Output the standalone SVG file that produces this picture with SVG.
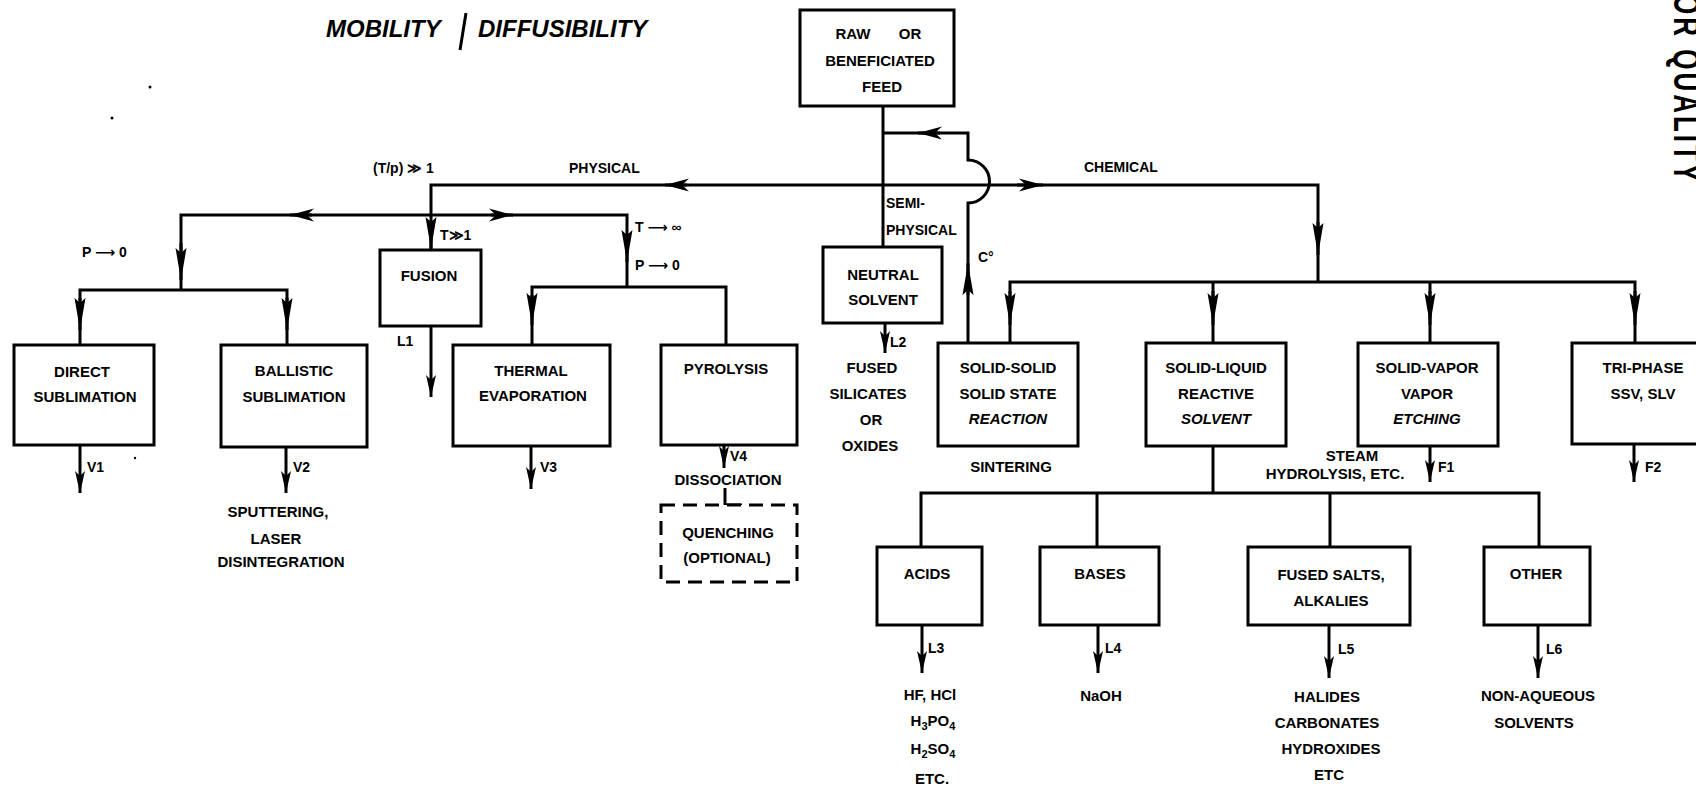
<svg xmlns="http://www.w3.org/2000/svg" width="1696" height="797" viewBox="0 0 1696 797">
<style>
.ln{stroke:#000;stroke-width:3;fill:none}
.bx{fill:#fff;stroke:#000;stroke-width:3}
.dash{fill:#fff;stroke:#000;stroke-width:3;stroke-dasharray:14 8}
text{font-family:"Liberation Sans",Arial,sans-serif;font-weight:bold;fill:#000}
.t{font-size:15px;text-anchor:middle}
.l{font-size:14px;text-anchor:start}
.it{font-style:italic}
.ar{font-family:"DejaVu Sans",sans-serif;font-weight:bold}
</style>
<defs>
<marker id="ahh" viewBox="-30 -10 32 20" refX="0" refY="0" markerWidth="32" markerHeight="20" markerUnits="userSpaceOnUse" orient="auto" overflow="visible"><path d="M0,0 L-24,-6.5 L-17,0 L-24,6.5 Z" fill="#000"/></marker>
<marker id="ah" viewBox="-40 -10 42 20" refX="0" refY="0" markerWidth="42" markerHeight="20" markerUnits="userSpaceOnUse" orient="auto" overflow="visible"><path d="M0,0 L-32,-5.5 L-27,0 L-32,5.5 Z" fill="#000"/></marker>
<marker id="ahs" viewBox="-30 -10 32 20" refX="0" refY="0" markerWidth="32" markerHeight="20" markerUnits="userSpaceOnUse" orient="auto" overflow="visible"><path d="M0,0 L-22,-5 L-17,0 L-22,5 Z" fill="#000"/></marker>
</defs>
<rect width="1696" height="797" fill="#fff"/>

<g id="title">
<text x="326" y="37" font-size="24" class="it">MOBILITY</text>
<line x1="466" y1="13" x2="460" y2="50" stroke="#000" stroke-width="3"/>
<text x="478" y="37" font-size="24" class="it">DIFFUSIBILITY</text>
</g>
<g id="specks" fill="#000">
<circle cx="150" cy="87" r="1.5"/>
<circle cx="112" cy="118" r="1.5"/>
<circle cx="135" cy="458" r="1.2"/>
</g>
<g id="margin-note">
<text transform="translate(1674,-6) rotate(90) scale(1,1.4)" font-size="26" letter-spacing="3">OR QUALITY</text>
</g>

<g id="connectors">
<path class="ln" d="M431,249 L431,185 L1318,185 L1318,282"/>
<path class="ln" d="M181,290 L181,215 L627,215 L627,287"/>
<path class="ln" d="M80,345 L80,290 L287,290 L287,345"/>
<path class="ln" d="M532,345 L532,287 L726,287 L726,345"/>
<path class="ln" d="M883,106 L883,247"/>
<path class="ln" d="M968,343 L968,203 A21.5,21.5 0 0 0 968,160 L968,133 L883,133"/>
<path class="ln" d="M1010,343 L1010,282 L1635,282 L1635,343 M1213,282 L1213,343 M1430,282 L1430,343"/>
<path class="ln" d="M1213,446 L1213,493 M921,547 L921,493 L1539,493 L1539,547 M1097,493 L1097,547 M1330,493 L1330,547"/>
<path class="ln" d="M725,488 L725,505 L742,505"/>
<path class="ln" d="M687,185 L665,185" marker-end="url(#ahh)"/>
<path class="ln" d="M312,215 L290,215" marker-end="url(#ahh)"/>
<path class="ln" d="M491,215 L513,215" marker-end="url(#ahh)"/>
<path class="ln" d="M1017,185 L1043,185" marker-end="url(#ahh)"/>
<path class="ln" d="M940,133 L918,133" marker-end="url(#ahh)"/>
<path class="ln" d="M181,243 L181,280" marker-end="url(#ah)"/>
<path class="ln" d="M431,225 L431,249" marker-end="url(#ah)"/>
<path class="ln" d="M627,234 L627,262" marker-end="url(#ah)"/>
<path class="ln" d="M80,298 L80,330" marker-end="url(#ah)"/>
<path class="ln" d="M287,298 L287,330" marker-end="url(#ah)"/>
<path class="ln" d="M532,295 L532,325" marker-end="url(#ah)"/>
<path class="ln" d="M1318,222 L1318,255" marker-end="url(#ah)"/>
<path class="ln" d="M1010,291 L1010,325" marker-end="url(#ah)"/>
<path class="ln" d="M1213,291 L1213,325" marker-end="url(#ah)"/>
<path class="ln" d="M1430,291 L1430,325" marker-end="url(#ah)"/>
<path class="ln" d="M1635,291 L1635,325" marker-end="url(#ah)"/>
<path class="ln" d="M968,295 L968,263" marker-end="url(#ah)"/>
<path class="ln" d="M80,445 L80,493" marker-end="url(#ahs)"/>
<path class="ln" d="M286,447 L286,493" marker-end="url(#ahs)"/>
<path class="ln" d="M431,326 L431,397" marker-end="url(#ahs)"/>
<path class="ln" d="M531,446 L531,489" marker-end="url(#ahs)"/>
<path class="ln" d="M724,445 L724,468" marker-end="url(#ahs)"/>
<path class="ln" d="M885,323 L885,353" marker-end="url(#ahs)"/>
<path class="ln" d="M1430,446 L1430,482" marker-end="url(#ahs)"/>
<path class="ln" d="M1634,444 L1634,482" marker-end="url(#ahs)"/>
<path class="ln" d="M922,625 L922,673" marker-end="url(#ahs)"/>
<path class="ln" d="M1098,625 L1098,673" marker-end="url(#ahs)"/>
<path class="ln" d="M1329,625 L1329,678" marker-end="url(#ahs)"/>
<path class="ln" d="M1538,625 L1538,678" marker-end="url(#ahs)"/>
</g>

<g id="connector-labels">
<text class="l" x="373" y="173">(T/p) ≫ 1</text>
<text class="l" x="569" y="173">PHYSICAL</text>
<text class="l" x="440" y="240">T≫1</text>
<text class="l" x="82" y="257">P <tspan class="ar">⟶</tspan> 0</text>
<text class="l" x="635" y="232">T <tspan class="ar">⟶</tspan> ∞</text>
<text class="l" x="635" y="270">P <tspan class="ar">⟶</tspan> 0</text>
<text class="l" x="1084" y="172">CHEMICAL</text>
<text class="l" x="886" y="208">SEMI-</text>
<text class="l" x="886" y="235">PHYSICAL</text>
<text class="l" x="978" y="262">C°</text>
<text class="l" x="87" y="472">V1</text>
<text class="l" x="293" y="472">V2</text>
<text class="l" x="397" y="346">L1</text>
<text class="l" x="540" y="472">V3</text>
<text class="l" x="730" y="461">V4</text>
<text class="l" x="890" y="347">L2</text>
<text class="l" x="1438" y="472">F1</text>
<text class="l" x="1645" y="472">F2</text>
<text class="l" x="928" y="653">L3</text>
<text class="l" x="1105" y="653">L4</text>
<text class="l" x="1338" y="654">L5</text>
<text class="l" x="1546" y="654">L6</text>
</g>

<g id="raw-feed">
<rect class="bx" x="800" y="10" width="154" height="96"/>
<text class="t" x="853" y="39">RAW</text>
<text class="t" x="910" y="39">OR</text>
<text class="t" x="880" y="66">BENEFICIATED</text>
<text class="t" x="882" y="92">FEED</text>
</g>
<g id="fusion">
<rect class="bx" x="380" y="250" width="101" height="76"/>
<text class="t" x="429" y="281">FUSION</text>
</g>
<g id="neutral-solvent">
<rect class="bx" x="823" y="247" width="119" height="76"/>
<text class="t" x="883" y="280">NEUTRAL</text>
<text class="t" x="883" y="305">SOLVENT</text>
</g>
<g id="direct-sublimation">
<rect class="bx" x="14" y="345" width="140" height="100"/>
<text class="t" x="82" y="377">DIRECT</text>
<text class="t" x="85" y="402">SUBLIMATION</text>
</g>
<g id="ballistic-sublimation">
<rect class="bx" x="221" y="345" width="146" height="102"/>
<text class="t" x="294" y="376">BALLISTIC</text>
<text class="t" x="294" y="402">SUBLIMATION</text>
</g>
<g id="thermal-evaporation">
<rect class="bx" x="453" y="345" width="157" height="101"/>
<text class="t" x="531" y="376">THERMAL</text>
<text class="t" x="533" y="401">EVAPORATION</text>
</g>
<g id="pyrolysis">
<rect class="bx" x="661" y="345" width="136" height="100"/>
<text class="t" x="726" y="374">PYROLYSIS</text>
</g>
<g id="dissociation">
<text class="t" x="728" y="485">DISSOCIATION</text>
</g>
<g id="quenching">
<rect class="dash" x="661" y="505" width="136" height="77"/>
<text class="t" x="728" y="538">QUENCHING</text>
<text class="t" x="727" y="563">(OPTIONAL)</text>
</g>
<g id="sputtering">
<text class="t" x="278" y="517">SPUTTERING,</text>
<text class="t" x="276" y="544">LASER</text>
<text class="t" x="281" y="567">DISINTEGRATION</text>
</g>
<g id="fused-silicates">
<text class="t" x="872" y="373">FUSED</text>
<text class="t" x="868" y="399">SILICATES</text>
<text class="t" x="871" y="425">OR</text>
<text class="t" x="870" y="451">OXIDES</text>
</g>
<g id="solid-solid">
<rect class="bx" x="938" y="343" width="140" height="103"/>
<text class="t" x="1008" y="373">SOLID-SOLID</text>
<text class="t" x="1008" y="399">SOLID STATE</text>
<text class="t it" x="1008" y="424">REACTION</text>
<text class="t" x="1011" y="472">SINTERING</text>
</g>
<g id="solid-liquid">
<rect class="bx" x="1146" y="343" width="140" height="103"/>
<text class="t" x="1216" y="373">SOLID-LIQUID</text>
<text class="t" x="1216" y="399">REACTIVE</text>
<text class="t it" x="1216" y="424">SOLVENT</text>
</g>
<g id="solid-vapor">
<rect class="bx" x="1358" y="343" width="140" height="103"/>
<text class="t" x="1427" y="373">SOLID-VAPOR</text>
<text class="t" x="1427" y="399">VAPOR</text>
<text class="t it" x="1427" y="424">ETCHING</text>
<text class="t" x="1352" y="461">STEAM</text>
<text class="t" x="1335" y="479">HYDROLYSIS, ETC.</text>
</g>
<g id="tri-phase">
<rect class="bx" x="1572" y="343" width="150" height="101"/>
<text class="t" x="1643" y="373">TRI-PHASE</text>
<text class="t" x="1643" y="399">SSV, SLV</text>
</g>
<g id="acids">
<rect class="bx" x="877" y="547" width="105" height="78"/>
<text class="t" x="927" y="579">ACIDS</text>
<text class="t" x="930" y="700">HF, HCl</text>
<text class="t" x="933" y="726">H<tspan font-size="11" dy="4">3</tspan><tspan dy="-4">PO</tspan><tspan font-size="11" dy="4">4</tspan></text>
<text class="t" x="933" y="754">H<tspan font-size="11" dy="4">2</tspan><tspan dy="-4">SO</tspan><tspan font-size="11" dy="4">4</tspan></text>
<text class="t" x="932" y="784">ETC.</text>
</g>
<g id="bases">
<rect class="bx" x="1040" y="547" width="119" height="78"/>
<text class="t" x="1100" y="579">BASES</text>
<text class="t" x="1101" y="701">NaOH</text>
</g>
<g id="fused-salts">
<rect class="bx" x="1248" y="547" width="162" height="78"/>
<text class="t" x="1331" y="580">FUSED SALTS,</text>
<text class="t" x="1331" y="606">ALKALIES</text>
<text class="t" x="1327" y="702">HALIDES</text>
<text class="t" x="1327" y="728">CARBONATES</text>
<text class="t" x="1331" y="754">HYDROXIDES</text>
<text class="t" x="1329" y="780">ETC</text>
</g>
<g id="other">
<rect class="bx" x="1484" y="547" width="106" height="78"/>
<text class="t" x="1536" y="579">OTHER</text>
<text class="t" x="1538" y="701">NON-AQUEOUS</text>
<text class="t" x="1534" y="728">SOLVENTS</text>
</g>
</svg>
